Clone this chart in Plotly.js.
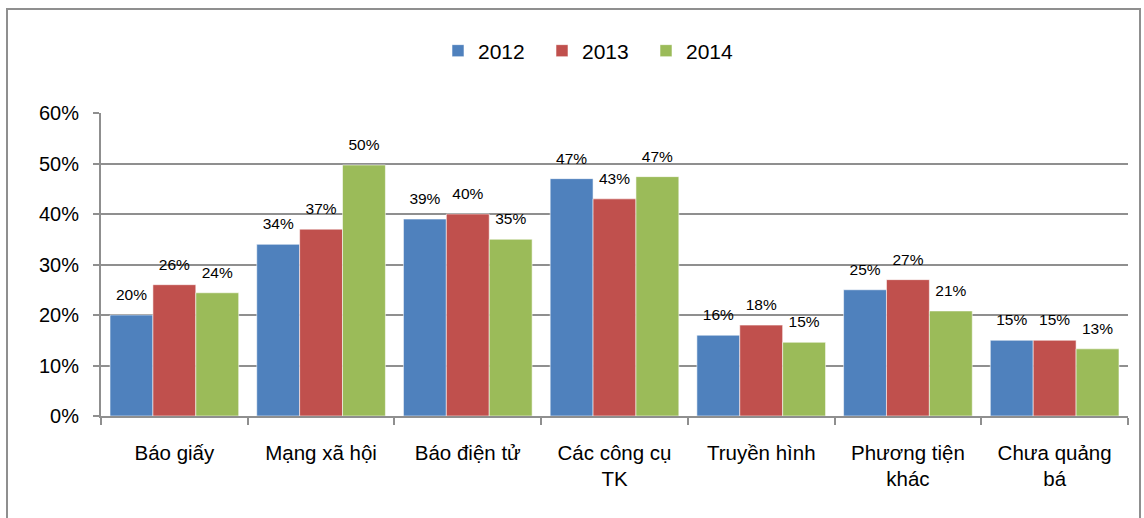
<!DOCTYPE html>
<html>
<head>
<meta charset="utf-8">
<script src="https://cdn.plot.ly/plotly-3.0.1.min.js"></script>
<style>
  html, body { margin: 0; padding: 0; background: #fff; }
  #wrap { position: relative; width: 1144px; height: 518px; overflow: hidden; }
  #chart { position: absolute; left: 0; top: 0; width: 1144px; height: 518px; }
  #frame { position: absolute; left: 6px; top: 8px; width: 1135px; height: 530px;
           border: 2px solid #8f8f8f; box-sizing: border-box; pointer-events: none; }
</style>
</head>
<body>
<div id="wrap">
  <div id="chart"></div>
  <div id="frame"></div>
</div>
<script>
// ---- data ----
const categories = ["Báo giấy", "Mạng xã hội", "Báo điện tử", "Các công cụ<br>TK",
                    "Truyền hình", "Phương tiện<br>khác", "Chưa quảng<br>bá"];
const seriesNames = ["2012", "2013", "2014"];
const values2012 = [20, 34, 39, 47, 16, 25, 15];
const values2013 = [26, 37, 40, 43, 18, 27, 15];
const values2014 = [24.4, 49.7, 35, 47.4, 14.6, 20.8, 13.3];
const yTickVals = [0, 10, 20, 30, 40, 50, 60];

const seriesValues = [values2012, values2013, values2014];
const colors = ["#4f81bd", "#c0504d", "#9bbb59"];
const FONT = '"Liberation Sans", Arial, sans-serif';

const traces = [];
seriesValues.forEach((vals, i) => {
  traces.push({
    type: 'bar',
    name: seriesNames[i],
    x: categories,
    y: vals,
    marker: { color: colors[i], line: { color: 'rgba(255,255,255,0.55)', width: 1 } },
    hoverinfo: 'skip'
  });
});
// data labels as grouped scatter text so they sit above each bar
seriesValues.forEach((vals, i) => {
  traces.push({
    type: 'scatter',
    mode: 'markers+text',
    x: categories,
    y: vals,
    texttemplate: '%{y:.0f}%',
    textposition: 'top center',
    textfont: { family: FONT, size: 15.5, color: '#000' },
    marker: { size: 16, color: 'rgba(0,0,0,0)' },
    showlegend: false,
    hoverinfo: 'skip',
    cliponaxis: false
  });
});

const layout = {
  width: 1144,
  height: 518,
  margin: { l: 101, r: 16, t: 113, b: 102, pad: 0 },
  paper_bgcolor: '#ffffff',
  plot_bgcolor: '#ffffff',
  font: { family: FONT, color: '#000' },
  barmode: 'group',
  bargap: 0.123,
  bargroupgap: 0,
  scattermode: 'group',
  scattergap: 0.123,
  showlegend: true,
  legend: {
    orientation: 'h',
    xref: 'container', yref: 'container',
    x: 438 / 1144, xanchor: 'left',
    y: 1 - 51 / 518, yanchor: 'middle',
    font: { family: FONT, size: 21, color: '#000' },
    itemwidth: 30,
    entrywidth: 59,
    traceorder: 'normal',
    bgcolor: 'rgba(0,0,0,0)'
  },
  xaxis: {
    type: 'category',
    tickson: 'boundaries',
    ticks: 'outside',
    ticklen: 7,
    tickwidth: 2,
    tickcolor: '#8f8f8f',
    showline: true,
    linecolor: '#8f8f8f',
    linewidth: 2,
    showgrid: false,
    tickfont: { family: FONT, size: 20.5, color: '#000' },
    ticklabelstandoff: 17,
    automargin: false,
    fixedrange: true
  },
  yaxis: {
    range: [0, 60],
    tickvals: yTickVals,
    ticktext: yTickVals.map(v => v + '%'),
    ticks: 'outside',
    ticklen: 6,
    tickwidth: 2,
    tickcolor: '#8f8f8f',
    showline: true,
    linecolor: '#8f8f8f',
    linewidth: 2,
    showgrid: true,
    gridcolor: '#8f8f8f',
    gridwidth: 2,
    zeroline: false,
    tickfont: { family: FONT, size: 20, color: '#000' },
    ticklabelstandoff: 10,
    automargin: false,
    fixedrange: true
  }
};

Plotly.newPlot('chart', traces, layout, { displayModeBar: false, staticPlot: true });
</script>
</body>
</html>
